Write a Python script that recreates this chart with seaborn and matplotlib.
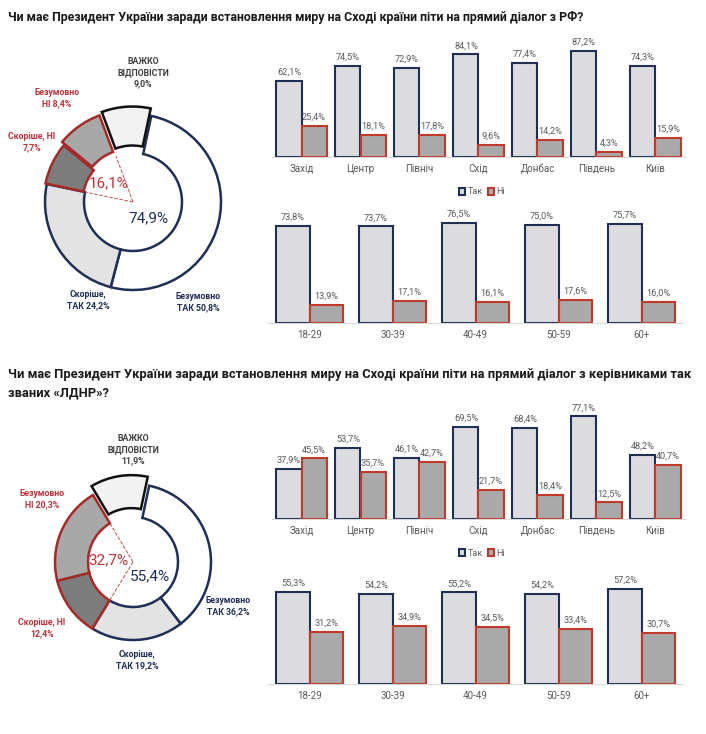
import matplotlib
matplotlib.use("Agg")
import matplotlib.pyplot as plt
from matplotlib.patches import Patch
import numpy as np
import pandas as pd
import seaborn as sns

# ── Data ────────────────────────────────────────────────────────────────────
title_rf = ("Чи має Президент України заради встановлення миру на Сході країни "
            "піти на прямий діалог з РФ?")
title_ldnr = ("Чи має Президент України заради встановлення миру на Сході країни "
              "піти на прямий діалог з керівниками так\nзваних «ЛДНР»?")

regions = ["Захід", "Центр", "Північ", "Схід", "Донбас", "Південь", "Київ"]
ages = ["18-29", "30-39", "40-49", "50-59", "60+"]
answers = ["Так", "Ні"]

rf_region_yes = [62.1, 74.5, 72.9, 84.1, 77.4, 87.2, 74.3]
rf_region_no = [25.4, 18.1, 17.8, 9.6, 14.2, 4.3, 15.9]
rf_age_yes = [73.8, 73.7, 76.5, 75.0, 75.7]
rf_age_no = [13.9, 17.1, 16.1, 17.6, 16.0]

ldnr_region_yes = [37.9, 53.7, 46.1, 69.5, 68.4, 77.1, 48.2]
ldnr_region_no = [45.5, 35.7, 42.7, 21.7, 18.4, 12.5, 40.7]
ldnr_age_yes = [55.3, 54.2, 55.2, 54.2, 57.2]
ldnr_age_no = [31.2, 34.9, 34.5, 33.4, 30.7]

pie_templates = ["Безумовно\nТАК {}", "Скоріше,\nТАК {}", "Скоріше, НІ\n{}",
                 "Безумовно\nНІ {}", "ВАЖКО\nВІДПОВІСТИ\n{}"]
rf_pie = [50.8, 24.2, 7.7, 8.4, 9.0]
ldnr_pie = [36.2, 19.2, 12.4, 20.3, 11.9]
rf_totals = [74.9, 16.1]      # так / ні
ldnr_totals = [55.4, 32.7]

# ── Styling ─────────────────────────────────────────────────────────────────
sns.set_style("white")
plt.rcParams["font.family"] = ["Roboto", "DejaVu Sans"]

W, H = 706, 734
NAVY = "#1f2f55"
RED = "#c0392b"
DARK_RED = "#a52a2a"
YES_FILL = "#dcdcdf"
NO_FILL = "#a9a9a9"
GREY_TXT = "#595959"
LABEL_RED = "#b8333a"

PIE_FILLS = ["#ffffff", "#e3e3e3", "#7d7d7d", "#a8a8a8", "#f2f2f2"]
PIE_EDGES = [NAVY, NAVY, DARK_RED, DARK_RED, "#111111"]
PIE_TXT = [NAVY, NAVY, LABEL_RED, LABEL_RED, "#404040"]


def fmt(v):
    return f"{v:.1f}%".replace(".", ",")


def px_rect(x0, y0, x1, y1):
    """pixel box (top-left origin) -> figure fraction rect"""
    return [x0 / W, 1 - y1 / H, (x1 - x0) / W, (y1 - y0) / H]


def draw_bars(fig, box, cats, yes, no, width):
    ax = fig.add_axes(px_rect(*box))
    df = pd.DataFrame({
        "cat": cats * 2,
        "val": yes + no,
        "ans": [answers[0]] * len(cats) + [answers[1]] * len(cats),
    })
    sns.barplot(data=df, x="cat", y="val", hue="ans", order=cats, hue_order=answers,
                palette={answers[0]: YES_FILL, answers[1]: NO_FILL}, saturation=1,
                width=width, errorbar=None, legend=False, ax=ax)
    for cont, ec in zip(ax.containers, [NAVY, RED]):
        for bar in cont:
            bar.set_edgecolor(ec)
            bar.set_linewidth(1.5)
        ax.bar_label(cont, labels=[fmt(v) for v in cont.datavalues],
                     padding=3, fontsize=6.6, color=GREY_TXT)
    ax.set_xlim(-0.5, len(cats) - 0.5)
    ax.set_ylim(0, 100)
    ax.set_xlabel("")
    ax.set_ylabel("")
    ax.set_yticks([])
    ax.tick_params(axis="x", length=0, pad=5, labelsize=7, labelcolor=GREY_TXT)
    for s in ["top", "right", "left"]:
        ax.spines[s].set_visible(False)
    ax.spines["bottom"].set_color("#d9d9d9")
    ax.spines["bottom"].set_linewidth(0.8)
    ax.patch.set_alpha(0)
    return ax


def draw_legend(fig, cx, cy):
    handles = [Patch(facecolor=YES_FILL, edgecolor=NAVY, linewidth=1.5, label=answers[0]),
               Patch(facecolor=NO_FILL, edgecolor=RED, linewidth=1.5, label=answers[1])]
    fig.legend(handles=handles, loc="center", bbox_to_anchor=(cx / W, 1 - cy / H),
               ncol=2, frameon=False, fontsize=6.5, labelcolor=GREY_TXT,
               handlelength=0.7, handleheight=0.7, handletextpad=0.3, columnspacing=0.5)


def draw_donut(fig, cx, cy, r_out, r_in, vals, totals, explode, label_px, total_px):
    ax = fig.add_axes(px_rect(cx - 120, cy - 120, cx + 120, cy + 120))
    start = 78
    wedges, _ = ax.pie(vals, startangle=start, counterclock=False, radius=r_out,
                       explode=explode, colors=PIE_FILLS,
                       wedgeprops=dict(width=r_out - r_in, linewidth=1.8))
    for w, ec in zip(wedges, PIE_EDGES):
        w.set_edgecolor(ec)
    # dashed rays bounding the "НІ" group
    frac = np.cumsum(vals) / np.sum(vals)
    for f in (frac[1], frac[3]):
        a = np.deg2rad(start - 360 * f)
        ax.plot([0, r_in * np.cos(a)], [0, r_in * np.sin(a)], ls="--",
                color="#c0504d", lw=0.7)
    ax.set_xlim(-1.2, 1.2)
    ax.set_ylim(-1.2, 1.2)
    ax.axis("off")

    def to_data(px, py):
        return (px - cx) / 100, (cy - py) / 100

    for tmpl, v, col, (px, py) in zip(pie_templates, vals, PIE_TXT, label_px):
        x, y = to_data(px, py)
        ax.text(x, y, tmpl.format(fmt(v)), ha="center", va="center", fontsize=6.3,
                fontweight="bold", color=col, linespacing=1.3)
    for t, col, (px, py) in zip(totals, [NAVY, LABEL_RED], total_px):
        x, y = to_data(px, py)
        ax.text(x, y, fmt(t), ha="center", va="center", fontsize=11, color=col)


fig = plt.figure(figsize=(W / 100, H / 100), dpi=100)

# ── Section 1: dialogue with RF ─────────────────────────────────────────────
fig.text(8 / W, 1 - 18 / H, title_rf, fontsize=8.9, fontweight="bold",
         va="center", ha="left", color="#1a1a1a")
draw_donut(fig, 133, 202, 0.88, 0.49, rf_pie, rf_totals, [0, 0, 0.015, 0.05, 0.075],
           [(198, 302), (88, 300), (32, 142), (57, 98), (143, 73)],
           [(148, 218), (109, 183)])
draw_bars(fig, (272, 35, 685, 157), regions, rf_region_yes, rf_region_no, 0.85)
draw_legend(fig, 482, 192)
draw_bars(fig, (268, 192, 683, 323), ages, rf_age_yes, rf_age_no, 0.8)

# ── Section 2: dialogue with "LDNR" ─────────────────────────────────────────
fig.text(8 / W, 1 - 384 / H, title_ldnr, fontsize=9.3, fontweight="bold",
         va="center", ha="left", color="#1a1a1a", linespacing=1.5)
draw_donut(fig, 133, 562, 0.78, 0.45, ldnr_pie, ldnr_totals, [0, 0, 0, 0, 0.09],
           [(228, 606), (137, 660), (42, 628), (42, 499), (133, 450)],
           [(150, 576), (108, 560)])
draw_bars(fig, (272, 386, 685, 519), regions, ldnr_region_yes, ldnr_region_no, 0.85)
draw_legend(fig, 482, 553)
draw_bars(fig, (268, 518, 683, 684), ages, ldnr_age_yes, ldnr_age_no, 0.8)

fig.savefig("out.png", dpi=100)
